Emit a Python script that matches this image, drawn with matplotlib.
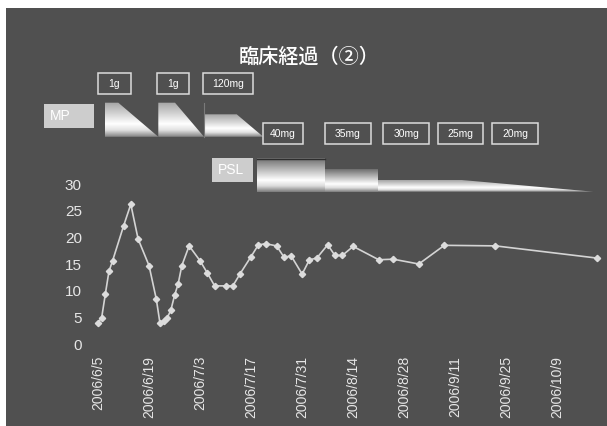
import numpy as np
import pandas as pd
import matplotlib as mpl
mpl.use('Agg')
import matplotlib.pyplot as plt
from matplotlib.patches import Polygon, Rectangle
from matplotlib.colors import LinearSegmentedColormap

### data
start = pd.Timestamp('2006-06-05')
day_offset = [0, 1, 2, 3, 4, 7, 9, 11, 14, 16, 17, 18, 19, 20, 21, 22, 23, 25,
              28, 30, 32, 35, 37, 39, 42, 44, 46, 49, 51, 53, 56, 58, 60, 63,
              65, 67, 70, 77, 81, 88, 95, 109, 137]
values = [4.0, 4.9, 9.3, 13.6, 15.6, 22.1, 26.2, 19.7, 14.7, 8.4, 3.9, 4.3,
          4.9, 6.4, 9.1, 11.3, 14.7, 18.4, 15.6, 13.3, 10.9, 10.9, 10.9, 13.2,
          16.4, 18.6, 18.8, 18.4, 16.3, 16.5, 13.1, 15.8, 16.1, 18.6, 16.6,
          16.6, 18.3, 15.8, 15.9, 15.0, 18.5, 18.4, 16.1]
tick_dates = pd.date_range(start, periods=10, freq='14D')
yticks = [0, 5, 10, 15, 20, 25, 30]

title = '臨床経過（②）'
mp_doses = ['1g', '1g', '120mg']
psl_doses = ['40mg', '35mg', '30mg', '25mg', '20mg']

### colours
bg = '#505050'
fg = '#e6e6e6'
metal = LinearSegmentedColormap.from_list(
    'metal', [(0, '#a4a4a4'), (0.35, '#d6d6d6'), (0.62, '#ffffff'),
              (0.8, '#e2e2e2'), (1, '#808080')])
metal_dark = LinearSegmentedColormap.from_list(
    'metal_dark', [(0, '#6e6e6e'), (0.35, '#bcbcbc'), (0.65, '#ffffff'),
                   (0.82, '#dcdcdc'), (1, '#7a7a7a')])

fig = plt.figure(figsize=(6.07, 4.26), dpi=100)
fig.patch.set_facecolor('white')

#### overlay in pixel coords for the schedule diagram
ov = fig.add_axes([0, 0, 1, 1], zorder=0)
ov.set_axis_off()
ov.add_patch(Rectangle((6, 8), 601, 418, fc=bg, ec='none', zorder=-5))

def metal_shape(pts, cmap=metal):
    poly = Polygon(pts, closed=True, fc='none', ec='none')
    ov.add_patch(poly)
    xs = [p[0] for p in pts]
    ys = [p[1] for p in pts]
    grad = np.linspace(0, 1, 256).reshape(-1, 1)
    im = ov.imshow(grad, cmap=cmap, aspect='auto', interpolation='bilinear',
                   extent=(min(xs), max(xs), max(ys), min(ys)), zorder=1)
    im.set_clip_path(poly)

def dose_box(x0, x1, y0, y1, txt):
    ov.add_patch(Rectangle((x0, y0), x1 - x0, y1 - y0, fc='none',
                           ec='#dcdcdc', lw=1.1, zorder=2))
    ov.text((x0 + x1) / 2, (y0 + y1) / 2 + 0.5, txt, color='white',
            fontsize=7.5, family='Liberation Sans', ha='center', va='center')

def label_box(x0, x1, y0, y1, txt):
    ov.add_patch(Rectangle((x0, y0), x1 - x0, y1 - y0, fc='#cdcdcd', ec='none'))
    ov.text(x0 + 6, (y0 + y1) / 2 + 0.5, txt, color='white', fontsize=10,
            family='Liberation Sans', ha='left', va='center')

# MP pulses
label_box(44, 94, 104, 127.7, 'MP')
metal_shape([(105, 136.8), (105, 102.7), (118.3, 102.7), (158.3, 136.8)])
metal_shape([(158.3, 136.8), (158.3, 102.7), (175, 102.7), (204, 136.8)])
metal_shape([(204, 136.8), (204, 114.3), (236.7, 114.3), (263.3, 136.8)])
ov.plot([204, 204], [102.7, 136.8], color='#7a7a7a', lw=0.8, zorder=2)

mp_x = [(98.3, 130.7), (157.3, 189.3), (202.7, 252.7)]
for (a, b), t in zip(mp_x, mp_doses):
    dose_box(a, b, 72.7, 94, t)

psl_x = [(263.3, 302.7), (325, 370.7), (383.3, 429.3), (438.3, 483.3), (492.3, 538)]
for (a, b), t in zip(psl_x, psl_doses):
    dose_box(a, b, 122.7, 143.5, t)

# PSL taper
label_box(212.3, 252.7, 158.3, 181.7, 'PSL')
metal_shape([(256.7, 191.7), (256.7, 158.3), (325, 158.3), (325, 191.7)], metal_dark)
metal_shape([(325, 191.7), (325, 169), (377.7, 169), (377.7, 191.7)], metal_dark)
metal_shape([(377.7, 191.7), (377.7, 180), (461.7, 180), (593.3, 191.7)])
ov.plot([256.7, 325], [158.6, 158.6], color='#2e2e2e', lw=1.0, zorder=2)

ov.text(309, 57.5, title, color='white', fontsize=14.5, weight='medium',
        family=['Noto Sans CJK JP', 'DejaVu Sans'], ha='center', va='center')

ov.set_xlim(0, 607)
ov.set_ylim(426, 0)

#### data axes
ax = fig.add_axes([88 / 607, 1 - 344 / 426, 516 / 607, 160 / 426], zorder=1)
ax.patch.set_alpha(0)
for s in ax.spines.values():
    s.set_visible(False)

dates = [start + pd.Timedelta(days=d) for d in day_offset]
ax.plot(dates, values, color='#d4d4d4', lw=1.2, marker='D', ms=3.2,
        mfc='#dcdcdc', mec='#dcdcdc', clip_on=False)

ax.set_xlim(start - pd.Timedelta(days=2.74), start + pd.Timedelta(days=138.8))
ax.set_ylim(0, 30)
ax.set_yticks(yticks)
ax.set_yticklabels([str(v) for v in yticks], color=fg, fontsize=11,
                   family='Liberation Sans')
ax.set_xticks(tick_dates)
ax.set_xticklabels([f'{d.year}/{d.month}/{d.day}' for d in tick_dates],
                   rotation=90, color=fg, fontsize=10, family='Liberation Sans',
                   ha='center', va='top')
ax.tick_params(axis='x', length=0, pad=8.5)
ax.tick_params(axis='y', length=0, pad=4.5)

fig.savefig('out.png', dpi=100, facecolor=fig.get_facecolor())
plt.close()
